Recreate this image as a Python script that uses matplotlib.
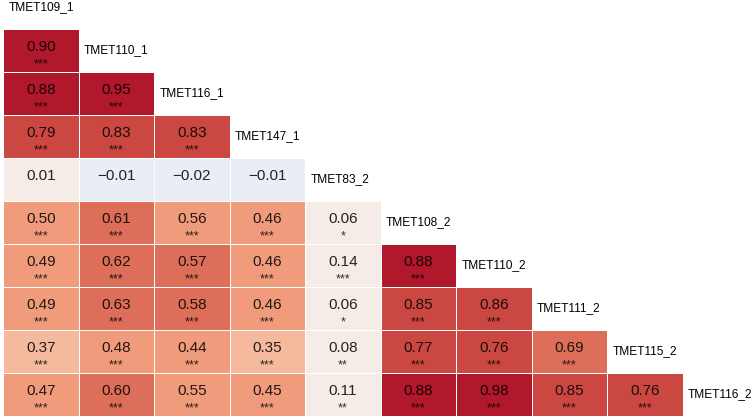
import numpy as np
import matplotlib
matplotlib.use("Agg")
import matplotlib.pyplot as plt
from matplotlib.colors import ListedColormap, BoundaryNorm

plt.rcParams['font.family'] = ['Liberation Sans', 'DejaVu Sans']

names = ["TMET109_1", "TMET110_1", "TMET116_1", "TMET147_1", "TMET83_2",
         "TMET108_2", "TMET110_2", "TMET111_2", "TMET115_2", "TMET116_2"]

# lower triangle, row i has correlations with variables 0..i-1
corr_rows = [
    [],
    [0.90],
    [0.88, 0.95],
    [0.79, 0.83, 0.83],
    [0.01, -0.01, -0.02, -0.01],
    [0.50, 0.61, 0.56, 0.46, 0.06],
    [0.49, 0.62, 0.57, 0.46, 0.14, 0.88],
    [0.49, 0.63, 0.58, 0.46, 0.06, 0.85, 0.86],
    [0.37, 0.48, 0.44, 0.35, 0.08, 0.77, 0.76, 0.69],
    [0.47, 0.60, 0.55, 0.45, 0.11, 0.88, 0.98, 0.85, 0.76],
]
star_rows = [
    [],
    ["***"],
    ["***", "***"],
    ["***", "***", "***"],
    ["", "", "", ""],
    ["***", "***", "***", "***", "*"],
    ["***", "***", "***", "***", "***", "***"],
    ["***", "***", "***", "***", "*", "***", "***"],
    ["***", "***", "***", "***", "**", "***", "***", "***"],
    ["***", "***", "***", "***", "**", "***", "***", "***", "***"],
]

bin_edges = [-1.0, 0.0, 0.24, 0.40, 0.565, 0.72, 0.87, 1.0]
bin_colors = ["#e8eef3", "#f6ece7", "#f5b99e", "#ef9b7c",
              "#dd6e5a", "#cb4741", "#b2182b"]
cmap = ListedColormap(bin_colors)
norm = BoundaryNorm(bin_edges, cmap.N)

n = len(names)
# grid: rows 1..n-1 (y down), columns 0..n-2
mat = np.full((n - 1, n - 1), np.nan)
for i in range(1, n):
    for j, v in enumerate(corr_rows[i]):
        mat[i - 1, j] = v
mat = np.ma.masked_invalid(mat)

fig = plt.figure(figsize=(7.55, 4.2), dpi=100)
ax = fig.add_axes([0, 0, 1, 1])
ax.pcolormesh(np.arange(n), np.arange(n), mat, cmap=cmap, norm=norm,
              edgecolors="white", linewidth=0.6)

for i in range(1, n):
    for j, v in enumerate(corr_rows[i]):
        txt = f"{v:.2f}".replace("-", "\u2212")
        ax.text(j + 0.5, i - 0.5 - 0.08, txt, ha="center", va="center",
                fontsize=11, color="black", alpha=0.85)
        s = star_rows[i][j]
        if s:
            ax.text(j + 0.5, i - 0.5 + 0.33, s, ha="center", va="center",
                    fontsize=9, color="black", alpha=0.8)

for i, name in enumerate(names):
    ax.text(i + 0.07, i - 0.5, name, ha="left", va="center",
            fontsize=8.6, color="black")

ax.set_xlim(-3 / 75.5, 752 / 75.5)
ax.set_ylim(391 / 43, -29 / 43)
ax.axis("off")

fig.savefig("out.png", dpi=100)
